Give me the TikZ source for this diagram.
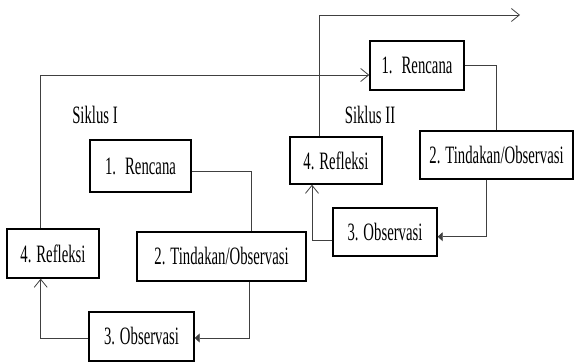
\documentclass[tikz,border=0pt]{standalone}
\usepackage{fontspec}
\setmainfont{Liberation Serif}[FakeStretch=0.59]
\usetikzlibrary{arrows.meta}
\tikzset{
  box/.style={draw=black, line width=1.4pt, fill=white, inner sep=0pt, font=\fontsize{25}{28}\selectfont},
  lbl/.style={inner sep=0pt, font=\fontsize{25}{28}\selectfont},
  conn/.style={draw=black!75, line width=0.8pt},
  openarr/.style={-{Straight Barb[length=8pt,width=13pt,line width=0.8pt]}},
  fillarr/.style={-{Triangle[length=5pt,width=9pt]}}
}
\begin{document}
\begin{tikzpicture}[x=1pt,y=-1pt]
\useasboundingbox (0,0) rectangle (574,363);
% Siklus I
\node[box, minimum width=101pt, minimum height=52pt] (r1) at (140.5,166) {1.\hspace{9pt}Rencana};
\node[box, minimum width=169pt, minimum height=49pt] (t1) at (221.5,256.5) {2. Tindakan/Observasi};
\node[box, minimum width=105pt, minimum height=49pt] (o1) at (141.5,336.5) {3. Observasi};
\node[box, minimum width=92pt, minimum height=49pt] (f1) at (53,253.5) {4. Refleksi};
% Siklus II
\node[box, minimum width=94pt, minimum height=49pt] (r2) at (417,65.5) {1.\hspace{9pt}Rencana};
\node[box, minimum width=153pt, minimum height=48pt] (t2) at (496.5,155) {2. Tindakan/Observasi};
\node[box, minimum width=104pt, minimum height=48pt] (o2) at (385,232) {3. Observasi};
\node[box, minimum width=92pt, minimum height=47pt] (f2) at (336,160.5) {4. Refleksi};
% labels
\node[lbl] (s1) at (95,115) {Siklus I};
\node[lbl] (s2) at (370,115) {Siklus II};
\coordinate (end) at (520,15);
% connectors cycle I
\draw[conn] (r1.east |- 0,171.7) -| (t1.north -| 251.7,0);
\draw[conn,fillarr] (t1.south -| 249,0) |- (o1.east |- 0,338);
\draw[conn,openarr] (o1.west |- 0,338) -| (f1.south -| 40.7,0);
\draw[conn,openarr] (f1.north -| 40.7,0) |- (r2.west |- 0,75);
% connectors cycle II
\draw[conn] (r2.east |- 0,65) -| (t2.north -| 496.7,0);
\draw[conn,fillarr] (t2.south -| 486,0) |- (o2.east |- 0,236.7);
\draw[conn,openarr] (o2.west |- 0,240.7) -| (f2.south -| 312,0);
\draw[conn,openarr] (f2.north -| 319,0) |- (end);
\end{tikzpicture}
\end{document}
